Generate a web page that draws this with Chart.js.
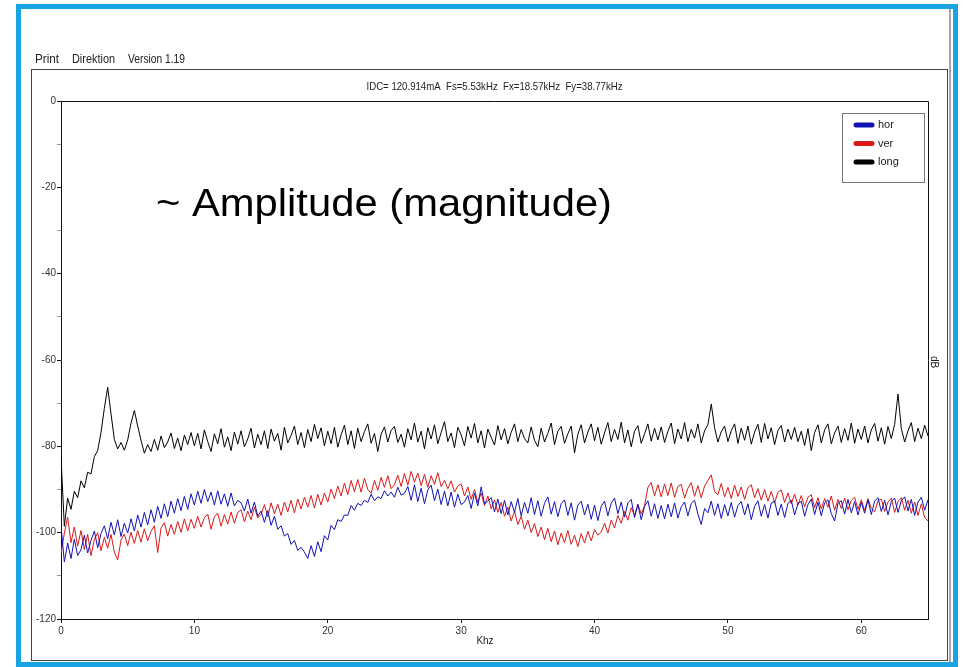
<!DOCTYPE html>
<html>
<head>
<meta charset="utf-8">
<title>Spektrum</title>
<script src="https://cdn.jsdelivr.net/npm/chart.js@4/dist/chart.umd.min.js"></script>
<style>
  html, body { margin: 0; padding: 0; background: #fff; }
  canvas { display: block; }
</style>
</head>
<body>
<canvas id="spectrum" width="965" height="667"></canvas>
<script>
// FFT bins, 0.25 kHz apart, 0 .. 65 kHz
const STEP_KHZ = 0.25;

const horDb = [
  -98.3, -106.8, -102.4, -106.0, -101.5, -105.3, -103.9, -100.6, -104.7, -101.8, -99.6, -103.5, -100.2, -98.4, -101.4, -97.6, -100.5, -97.0, -100.9, -97.8,
  -100.1, -96.8, -99.6, -95.9, -98.7, -95.3, -98.2, -94.7, -97.6, -93.9, -96.7, -93.3, -96.3, -92.7, -95.5, -92.1, -94.9, -91.6, -94.6, -91.0,
  -93.6, -90.4, -93.2, -90.0, -92.8, -90.6, -93.6, -90.3, -93.4, -91.0, -93.9, -90.8, -93.8, -92.5, -93.1, -95.0, -92.2, -95.5, -92.9, -96.2,
  -95.0, -97.6, -94.9, -98.3, -96.2, -99.2, -98.4, -100.8, -100.2, -102.7, -101.8, -104.1, -103.4, -104.5, -106.0, -103.0, -105.5, -102.1, -104.4, -100.7,
  -101.7, -98.3, -99.3, -97.0, -97.4, -95.9, -96.0, -93.7, -94.8, -93.2, -93.7, -92.5, -93.0, -91.1, -92.6, -91.7, -92.1, -90.3, -91.5, -90.6,
  -91.8, -89.5, -91.3, -90.9, -89.3, -92.5, -88.9, -92.8, -89.7, -93.3, -90.1, -89.0, -92.6, -89.9, -93.5, -90.4, -93.8, -90.6, -94.1, -91.1,
  -93.5, -92.9, -91.4, -94.4, -90.9, -93.8, -89.4, -93.3, -92.7, -91.9, -95.2, -92.2, -95.6, -92.5, -95.9, -92.8, -95.3, -92.1, -96.1, -93.0,
  -95.5, -91.9, -95.8, -92.6, -96.2, -93.2, -91.7, -95.7, -92.8, -96.3, -93.3, -92.4, -96.0, -93.1, -97.1, -93.6, -92.7, -95.9, -93.4, -96.9,
  -93.6, -97.2, -93.9, -92.7, -96.1, -93.2, -92.0, -95.6, -92.9, -96.4, -93.1, -92.3, -96.5, -93.5, -97.0, -93.9, -92.6, -96.2, -93.3, -96.7,
  -93.7, -96.8, -93.4, -96.3, -93.1, -96.6, -94.0, -92.9, -96.1, -93.2, -92.5, -95.7, -98.1, -94.4, -95.4, -92.7, -96.0, -93.3, -96.7, -93.5,
  -96.1, -93.0, -96.4, -93.7, -92.8, -95.9, -93.3, -97.0, -93.9, -92.6, -96.2, -93.5, -96.6, -93.1, -92.7, -96.0, -93.4, -96.5, -93.2, -92.5,
  -95.9, -93.3, -92.7, -96.2, -93.5, -92.2, -95.8, -92.9, -96.1, -93.1, -92.4, -95.6, -97.3, -93.2, -92.6, -95.7, -92.3, -95.4, -92.8, -95.9,
  -93.0, -95.5, -92.4, -95.8, -92.7, -91.9, -95.1, -92.5, -95.9, -92.8, -92.0, -95.3, -92.6, -91.7, -95.0, -92.3, -96.0, -92.9, -91.8, -94.8,
  -92.4
];

const verDb = [
  -104.8, -100.2, -96.4, -102.3, -98.7, -103.1, -99.5, -103.9, -100.4, -105.3, -101.6, -100.0, -104.2, -101.1, -103.6, -100.4, -104.5, -106.3, -101.7, -100.3,
  -103.0, -99.9, -102.5, -99.5, -102.2, -99.1, -101.9, -99.7, -98.4, -104.6, -98.9, -97.7, -100.8, -98.1, -100.4, -97.4, -99.9, -96.8, -99.6, -96.9,
  -99.0, -96.2, -98.7, -96.5, -95.7, -99.2, -96.3, -95.5, -98.5, -95.8, -98.0, -95.2, -97.8, -95.3, -94.7, -97.5, -95.0, -97.0, -94.1, -96.6,
  -95.8, -93.5, -96.3, -93.1, -95.6, -93.4, -96.0, -92.9, -95.2, -92.5, -95.4, -92.2, -94.5, -91.8, -94.1, -91.4, -94.3, -91.1, -93.6, -90.8,
  -92.9, -89.9, -92.1, -89.2, -91.5, -88.5, -91.2, -87.9, -90.5, -87.7, -90.6, -87.4, -90.0, -90.9, -87.9, -90.2, -87.2, -89.5, -86.8, -89.8,
  -88.9, -86.7, -89.3, -86.3, -89.0, -85.8, -88.3, -86.2, -89.1, -86.5, -89.5, -86.8, -88.8, -86.1, -89.3, -87.9, -89.8, -88.0, -90.6, -89.2,
  -88.7, -91.5, -89.4, -92.3, -90.0, -93.0, -90.8, -93.7, -91.5, -94.5, -92.4, -95.3, -93.0, -96.2, -94.1, -97.3, -95.0, -98.1, -96.2, -99.2,
  -97.1, -100.0, -97.9, -100.9, -98.7, -101.6, -99.0, -102.1, -99.6, -102.8, -100.1, -102.3, -99.5, -102.7, -100.6, -103.2, -100.2, -102.4, -99.7, -101.9,
  -99.3, -100.6, -99.9, -97.8, -100.1, -97.1, -98.9, -96.0, -97.8, -95.1, -97.1, -94.2, -96.0, -93.4, -95.7, -93.7, -89.5, -88.4, -91.5, -88.9,
  -91.7, -88.7, -91.4, -88.5, -91.8, -89.3, -88.8, -92.0, -89.7, -88.4, -91.6, -89.1, -91.9, -89.2, -87.9, -86.6, -90.5, -91.2, -88.6, -91.7,
  -89.5, -92.1, -89.0, -91.6, -89.4, -92.3, -89.6, -88.9, -91.9, -89.8, -92.5, -90.0, -92.7, -90.4, -93.1, -90.6, -90.1, -93.0, -90.8, -93.3,
  -91.1, -93.6, -91.4, -94.0, -91.8, -91.2, -94.2, -91.9, -94.5, -92.1, -94.1, -91.5, -94.8, -92.3, -94.4, -92.0, -94.7, -92.5, -91.8, -94.6,
  -92.4, -94.9, -92.1, -94.4, -95.2, -92.6, -92.2, -95.1, -92.9, -92.0, -95.3, -92.8, -91.9, -94.8, -92.5, -95.5, -92.9, -96.0, -93.3, -96.5,
  -97.3
];

const longDb = [
  -82.5, -98.5, -92.0, -94.6, -90.4, -91.9, -88.0, -89.6, -86.0, -86.4, -82.4, -81.0, -76.8, -71.2, -66.3, -72.5, -78.4, -80.6, -79.1, -80.9,
  -78.5, -74.6, -71.7, -75.3, -78.6, -81.6, -79.6, -81.2, -78.4, -80.9, -77.6, -80.3, -79.0, -76.9, -80.5, -78.1, -81.0, -77.4, -79.6, -76.8,
  -79.9, -77.0, -80.6, -76.2, -78.9, -81.2, -77.1, -79.4, -75.9, -80.2, -77.8, -81.0, -76.7, -79.5, -76.4, -80.1, -78.3, -75.8, -80.4, -77.2,
  -79.6, -76.4, -80.5, -76.0, -78.8, -77.0, -80.9, -75.6, -79.2, -77.5, -75.3, -79.6, -76.8, -80.3, -76.1, -78.9, -74.9, -78.2, -75.7, -79.9,
  -76.5, -79.4, -75.6, -80.2, -77.3, -75.1, -79.6, -76.4, -80.5, -75.8, -78.9, -76.6, -74.8, -79.3, -77.0, -81.2, -77.2, -75.5, -79.0, -76.3,
  -75.4, -79.1, -77.2, -80.2, -75.9, -78.5, -74.6, -79.0, -76.5, -80.6, -75.7, -78.3, -75.0, -79.4, -76.8, -74.3, -78.9, -76.9, -80.3, -75.6,
  -77.3, -79.9, -75.4, -78.1, -74.7, -79.2, -76.4, -80.4, -76.0, -77.9, -79.7, -75.2, -78.5, -75.9, -79.4, -76.8, -74.8, -78.9, -76.1, -78.2,
  -79.2, -75.5, -78.6, -80.1, -75.8, -79.0, -77.0, -74.6, -79.6, -76.5, -75.4, -79.3, -77.1, -75.3, -81.5, -77.2, -75.0, -79.2, -76.7, -74.8,
  -78.7, -75.6, -79.5, -76.9, -74.5, -78.9, -76.1, -78.4, -74.4, -79.2, -76.2, -80.1, -76.5, -75.2, -79.3, -77.1, -74.8, -78.8, -75.8, -78.5,
  -75.5, -79.1, -76.5, -74.6, -79.4, -76.0, -78.3, -74.5, -78.9, -76.1, -78.1, -74.8, -79.2, -76.4, -75.0, -70.2, -75.7, -79.0, -76.6, -75.3,
  -78.9, -76.4, -74.8, -79.3, -75.8, -78.6, -75.3, -79.5, -76.7, -74.9, -79.1, -74.7, -78.3, -75.7, -79.6, -76.3, -75.2, -79.0, -76.0, -78.4,
  -75.6, -78.9, -76.5, -79.8, -75.9, -81.0, -76.8, -75.0, -79.2, -76.2, -74.8, -79.4, -76.9, -75.3, -79.1, -75.9, -78.6, -74.6, -79.3, -76.0,
  -78.4, -75.3, -79.2, -76.2, -74.7, -78.8, -75.7, -79.5, -75.4, -78.2, -74.9, -67.9, -75.9, -79.0, -76.4, -74.5, -78.9, -75.8, -78.2, -75.1,
  -77.6
];

const seriesNames = ["hor", "ver", "long"];
const seriesColors = ["#1212b4", "#d81a1a", "#000000"];
const xTicks = [0, 10, 20, 30, 40, 50, 60];
const yTicks = [0, -20, -40, -60, -80, -100, -120];

const headerText = "IDC= 120.914mA  Fs=5.53kHz  Fx=18.57kHz  Fy=38.77kHz";
const menuItems = ["Print", "Direktion", "Version 1.19"];
const noteText = "~ Amplitude (magnitude)";

const freqKhz = horDb.map((_, i) => i * STEP_KHZ);
const toPoints = (arr) => arr.map((v, i) => ({ x: freqKhz[i], y: v }));

const FONT = "'Liberation Sans', Arial, sans-serif";

// window chrome, panel frame, legend box and captions
const framePlugin = {
  id: "frame",
  beforeDraw(chart) {
    const c = chart.ctx;
    c.save();
    c.fillStyle = "#fff";
    c.fillRect(0, 0, chart.width, chart.height);

    // blue outer border
    c.strokeStyle = "#1aa3e3";
    c.lineWidth = 5;
    c.strokeRect(18.5, 6.5, 937, 658);

    // window edge
    c.strokeStyle = "#a8a8a8";
    c.lineWidth = 2;
    c.beginPath();
    c.moveTo(950, 9);
    c.lineTo(950, 662);
    c.stroke();

    // panel
    c.strokeStyle = "#444";
    c.lineWidth = 1;
    c.strokeRect(31.5, 69.5, 916, 591);

    // menu line
    c.fillStyle = "#222";
    c.font = "12px " + FONT;
    c.textBaseline = "middle";
    let mx = 35;
    const menuW = [24, 43, 57];
    menuItems.forEach((t, i) => {
      c.fillText(t, mx, 60, menuW[i]);
      mx += menuW[i] + 13;
    });
    c.restore();
  },
  afterDraw(chart) {
    const c = chart.ctx;
    const a = chart.chartArea;
    c.save();

    // top and right edges of the plot box
    c.strokeStyle = "#111";
    c.lineWidth = 1;
    c.beginPath();
    c.moveTo(a.left, a.top + 0.5);
    c.lineTo(a.right + 0.5, a.top + 0.5);
    c.lineTo(a.right + 0.5, a.bottom);
    c.stroke();

    // header
    c.fillStyle = "#222";
    c.textBaseline = "middle";
    c.textAlign = "center";
    c.font = "10.5px " + FONT;
    c.fillText(headerText, (a.left + a.right) / 2, 87, 256);

    // axis names
    c.font = "10px " + FONT;
    c.fillText("Khz", 485, 641);
    c.save();
    c.translate(934, 362);
    c.rotate(Math.PI / 2);
    c.fillText("dB", 0, 0);
    c.restore();

    // note
    c.save();
    c.fillStyle = "#000";
    c.textAlign = "left";
    c.textBaseline = "alphabetic";
    c.font = "39px " + FONT;
    const w = c.measureText(noteText).width;
    c.translate(156, 216);
    c.scale(456 / w, 1);
    c.fillText(noteText, 0, 0);
    c.restore();

    // legend
    c.fillStyle = "#fff";
    c.fillRect(842, 113, 82, 69);
    c.strokeStyle = "#777";
    c.strokeRect(842.5, 113.5, 82, 69);
    c.textAlign = "left";
    c.font = "11px " + FONT;
    chart.data.datasets.forEach((ds, i) => {
      const y = 125 + i * 18.5;
      c.strokeStyle = ds.borderColor;
      c.lineWidth = 5;
      c.lineCap = "round";
      c.beginPath();
      c.moveTo(856, y);
      c.lineTo(872, y);
      c.stroke();
      c.fillStyle = "#222";
      c.fillText(ds.label, 878, y, 22);
    });
    c.restore();
  },
};

new Chart(document.getElementById("spectrum"), {
  type: "line",
  data: {
    datasets: [horDb, verDb, longDb].map((arr, i) => ({
      label: seriesNames[i],
      data: toPoints(arr),
      borderColor: seriesColors[i],
      borderWidth: 1,
      pointRadius: 0,
      tension: 0,
      fill: false,
    })),
  },
  options: {
    responsive: false,
    animation: false,
    events: [],
    layout: { padding: { left: 0, top: 101, right: 37, bottom: 0 } },
    plugins: {
      legend: { display: false },
      title: { display: false },
      tooltip: { enabled: false },
    },
    scales: {
      x: {
        type: "linear",
        min: 0,
        max: 65,
        afterFit: (s) => { s.height = 48; },
        afterBuildTicks: (s) => { s.ticks = xTicks.map((v) => ({ value: v })); },
        border: { color: "#111" },
        grid: { drawOnChartArea: false, tickLength: 4, tickColor: "#111" },
        ticks: {
          maxRotation: 0,
          autoSkip: false,
          padding: 2,
          color: "#333",
          font: { family: FONT, size: 10 },
        },
      },
      y: {
        min: -120,
        max: 0,
        afterFit: (s) => { s.width = 61; },
        afterBuildTicks: (s) => {
          const all = [];
          yTicks.forEach((v) => {
            all.push({ value: v });
            if (v > -120) all.push({ value: v - 10 });
          });
          s.ticks = all;
        },
        border: { color: "#111" },
        grid: {
          drawOnChartArea: false,
          tickLength: 4,
          tickColor: (ctx) => (ctx.tick && ctx.tick.value % 20 === 0 ? "#111" : "#999"),
        },
        ticks: {
          autoSkip: false,
          padding: 1,
          color: "#333",
          font: { family: FONT, size: 10 },
          callback: (v) => (yTicks.includes(v) ? v : ""),
        },
      },
    },
  },
  plugins: [framePlugin],
});
</script>
</body>
</html>
